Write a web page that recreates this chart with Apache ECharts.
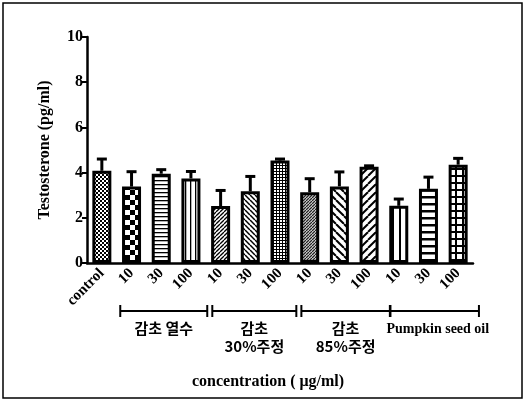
<!DOCTYPE html>
<html><head><meta charset="utf-8">
<script src="https://cdn.jsdelivr.net/npm/echarts@6/dist/echarts.min.js"></script>
<style>html,body{margin:0;padding:0;background:#fff}#c{width:525px;height:402px}</style>
</head><body><div id="c"></div>
<script>
const categories = ['control','10','30','100','10','30','100','10','30','100','10','30','100'];
const means = [4.08,3.38,3.95,3.74,2.52,3.17,4.53,3.13,3.39,4.26,2.53,3.28,4.35];
const errors = [0.52,0.66,0.18,0.31,0.69,0.66,0.07,0.60,0.64,0.04,0.30,0.52,0.28];
const patterns = ['fineCheck','check','hlines','vlines','diagF','diagB','fineGrid','denseF','wideB','wideF','wideV','wideH','grid'];
const groups = [
  {label:'감초 열수', first:1, last:3},
  {label:'감초\n30%주정', first:4, last:6},
  {label:'감초\n85%주정', first:7, last:9},
  {label:'Pumpkin seed oil', first:10, last:12}
];
const yTicks = [0,2,4,6,8,10];

function tile(w,h,draw){const c=document.createElement('canvas');c.width=w;c.height=h;const g=c.getContext('2d');g.fillStyle='#fff';g.fillRect(0,0,w,h);g.fillStyle='#000';g.strokeStyle='#000';draw(g,w,h);return {image:c,repeat:'repeat'};}
function diag(s,lw,dir,col){return tile(s,s,(g)=>{g.strokeStyle=col||'#000';g.lineWidth=lw;for(let o=-s;o<=s;o+=s){g.beginPath();if(dir>0){g.moveTo(o,s);g.lineTo(o+s,0);}else{g.moveTo(o,0);g.lineTo(o+s,s);}g.stroke();}});}
function makePattern(t){
  switch(t){
    case 'fineCheck': return tile(4,4,g=>{g.fillRect(0,0,2,2);g.fillRect(2,2,2,2);});
    case 'check': return tile(10,10,g=>{g.fillRect(0,0,5,5);g.fillRect(5,5,5,5);});
    case 'hlines': return tile(4,4,g=>{g.fillRect(0,0,4,1.3);});
    case 'vlines': return tile(5,5,g=>{g.fillRect(0,0,1.3,5);});
    case 'diagF': return diag(4,1.3,1);
    case 'diagB': return diag(5,1.5,-1);
    case 'fineGrid': return tile(3,3,g=>{g.fillRect(0,0,3,1);g.fillRect(0,0,1,3);});
    case 'denseF': return diag(3,1.4,1,'#222');
    case 'wideB': return diag(8,2,-1);
    case 'wideF': return diag(8,2,1);
    case 'wideV': return tile(7,7,g=>{g.fillRect(0,0,2,7);});
    case 'wideH': return tile(7,7,g=>{g.fillRect(0,0,7,2.5);});
    case 'grid': return tile(7,7,g=>{g.fillRect(0,0,7,2);g.fillRect(0,0,2,7);});
  }
}

const serif = '"Liberation Serif","Times New Roman",serif';
const chart = echarts.init(document.getElementById('c'));
const barData = means.map((v,i)=>({value:v,itemStyle:{color:makePattern(patterns[i])}}));
chart.setOption({
  animation:false,
  grid:{left:87,right:52,top:37,bottom:139},
  xAxis:{type:'category',data:categories,
    axisLine:{lineStyle:{color:'#000',width:2.5}},
    axisTick:{alignWithLabel:true,length:5,lineStyle:{color:'#000',width:2}},
    axisLabel:{rotate:45,color:'#000',fontFamily:serif,fontWeight:'bold',fontSize:15,margin:8,interval:0}},
  yAxis:{type:'value',min:0,max:10,interval:2,
    name:'Testosterone (pg/ml)',nameLocation:'middle',nameGap:34,
    nameTextStyle:{fontFamily:serif,fontWeight:'bold',fontSize:16,color:'#000'},
    axisLine:{show:true,lineStyle:{color:'#000',width:2.5}},
    axisTick:{show:true,length:5,lineStyle:{color:'#000',width:2}},
    axisLabel:{color:'#000',fontFamily:serif,fontWeight:'bold',fontSize:16,margin:4},
    splitLine:{show:false}},
  series:[
    {type:'bar',data:barData,barWidth:19,itemStyle:{borderColor:'#000',borderWidth:3},z:2},
    {type:'custom',z:3,data:means.map((m,i)=>[i,m,errors[i]]),
      renderItem:function(params,api){
        const i=api.value(0),m=api.value(1),e=api.value(2);
        const p0=api.coord([i,m]),p1=api.coord([i,m+e]);
        return {type:'group',children:[
          {type:'line',shape:{x1:p0[0],y1:p0[1],x2:p1[0],y2:p1[1]},style:{stroke:'#000',lineWidth:3}},
          {type:'line',shape:{x1:p1[0]-5,y1:p1[1],x2:p1[0]+5,y2:p1[1]},style:{stroke:'#000',lineWidth:3}}
        ]};
      }}
  ]
});

// annotations: group brackets, axis title, frame
const step = chart.convertToPixel({xAxisIndex:0},1)-chart.convertToPixel({xAxisIndex:0},0);
const g = [];
const by = 311;
groups.forEach((gr,k)=>{
  const x1 = chart.convertToPixel({xAxisIndex:0},gr.first) - (k===0?0.38:0.28)*step;
  const x2 = chart.convertToPixel({xAxisIndex:0},gr.last) + (k<2?0.55:0.7)*step;
  g.push({type:'line',shape:{x1:x1,y1:by,x2:x2,y2:by},style:{stroke:'#000',lineWidth:2}});
  g.push({type:'line',shape:{x1:x1,y1:by-6,x2:x1,y2:by+6},style:{stroke:'#000',lineWidth:2}});
  g.push({type:'line',shape:{x1:x2,y1:by-6,x2:x2,y2:by+6},style:{stroke:'#000',lineWidth:2}});
  const isLatin = /^[A-Za-z ]+$/.test(gr.label);
  if (isLatin) {
    g.push({type:'text',x:x1-4,y:by+11,style:{text:gr.label,align:'left',verticalAlign:'top',
      font:'bold 14px '+serif, fill:'#000'}});
  } else {
    g.push({type:'text',x:(x1+x2)/2,y:by+8,style:{text:gr.label,align:'center',verticalAlign:'top',
      font:'bold 15px "Noto Sans CJK KR", sans-serif', lineHeight:18, fill:'#000'}});
  }
});
g.push({type:'text',x:268,y:382,style:{text:'concentration ( μg/ml)',align:'center',verticalAlign:'middle',font:'bold 16px '+serif,fill:'#000'}});
g.push({type:'rect',shape:{x:3,y:3,width:519,height:395},style:{fill:'none',stroke:'#000',lineWidth:1.5},silent:true});
chart.setOption({graphic:g});
</script></body></html>
